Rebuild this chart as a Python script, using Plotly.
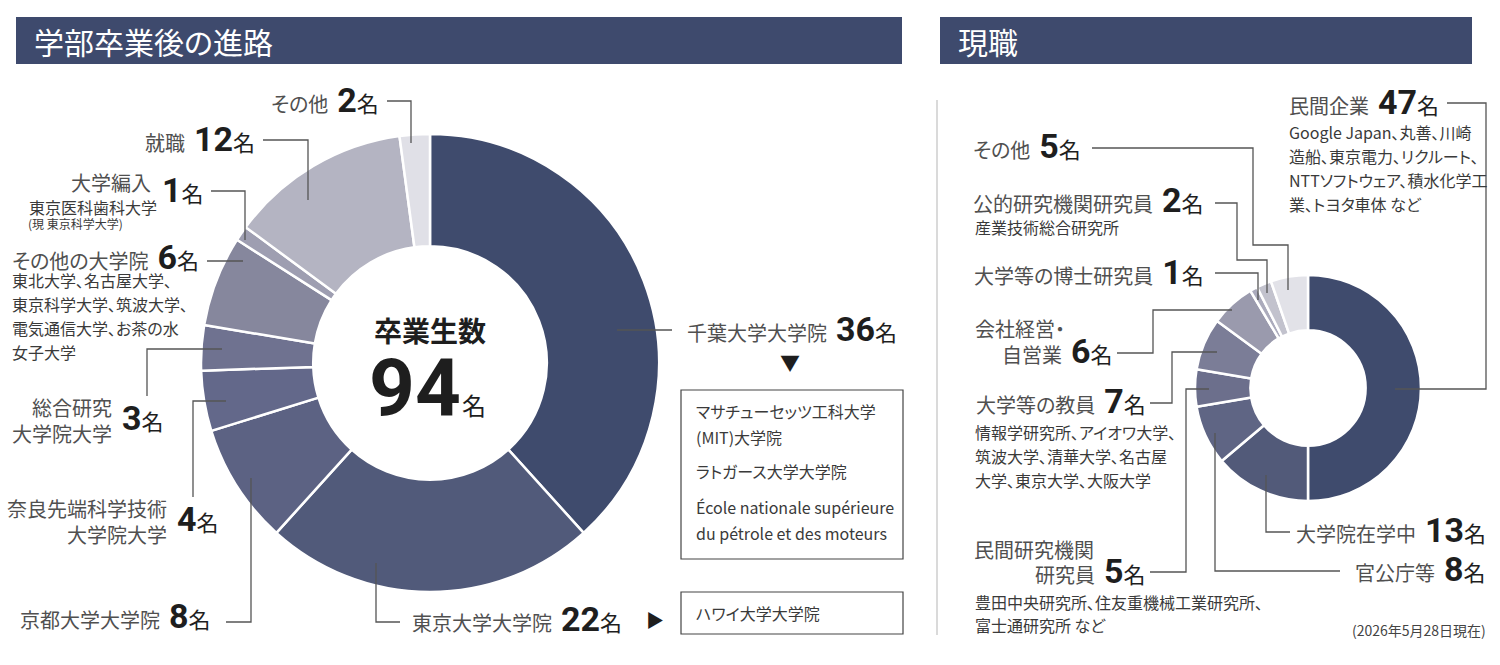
import plotly.graph_objects as go

W, H = 1500, 665

# 学部卒業後の進路 (clockwise from 12 o'clock)
grad_names = ["千葉大学大学院", "東京大学大学院", "京都大学大学院", "奈良先端科学技術大学院大学",
              "総合研究大学院大学", "その他の大学院", "大学編入", "就職", "その他"]
grad_counts = [36, 22, 8, 4, 3, 6, 1, 12, 2]
grad_colors = ["#3f4b6d", "#515a7a", "#5c6283", "#63688a", "#6f7290",
               "#86879d", "#9e9eb1", "#b4b4c2", "#e0e0e7"]

# 現職 (clockwise from 12 o'clock)
job_names = ["民間企業", "大学院在学中", "官公庁等", "民間研究機関研究員", "大学等の教員",
             "会社経営・自営業", "大学等の博士研究員", "公的研究機関研究員", "その他"]
job_counts = [47, 13, 8, 5, 7, 6, 1, 2, 5]
job_colors = ["#3f4b6d", "#525a79", "#5f6584", "#6c6f8c", "#7b7d97",
              "#9a9aad", "#ababbc", "#c2c2cd", "#e2e2e8"]

# sub notes
grad_notes = {
    "大学編入": ["東京医科歯科大学", "(現 東京科学大学)"],
    "その他の大学院": ["東北大学、名古屋大学、", "東京科学大学、筑波大学、",
                 "電気通信大学、お茶の水", "女子大学"],
}
chiba_next = ["マサチューセッツ工科大学", "(MIT)大学院", "ラトガース大学大学院",
              "École nationale supérieure", "du pétrole et des moteurs"]
todai_next = ["ハワイ大学大学院"]
job_notes = {
    "民間企業": ["Google Japan、丸善、川崎", "造船、東京電力、リクルート、",
             "NTTソフトウェア、積水化学工", "業、トヨタ車体 など"],
    "公的研究機関研究員": ["産業技術総合研究所"],
    "大学等の教員": ["情報学研究所、アイオワ大学、", "筑波大学、清華大学、名古屋",
               "大学、東京大学、大阪大学"],
    "民間研究機関研究員": ["豊田中央研究所、住友重機械工業研究所、", "富士通研究所 など"],
}
as_of = "(2026年5月28日現在)"

g = dict(zip(grad_names, grad_counts))
j = dict(zip(job_names, job_counts))

JP = "Noto Sans CJK JP"
LABEL = "#505050"
NOTE = "#3a3a3a"
DARK = "#1e1e1e"
LINE = "#555555"
NAVY = "#3e4a6d"
GAP = "&nbsp;&nbsp;"


def dom(cx, cy, r):
    return dict(x=[(cx - r) / W, (cx + r) / W], y=[1 - (cy + r) / H, 1 - (cy - r) / H])


fig = go.Figure()
fig.add_trace(go.Scatter(x=[], y=[], showlegend=False))

fig.add_trace(go.Pie(labels=grad_names, values=grad_counts, sort=False, direction="clockwise",
                     rotation=0, hole=0.51, textinfo="none", domain=dom(430, 363, 229),
                     marker=dict(colors=grad_colors, line=dict(color="white", width=2.5)),
                     showlegend=False))
fig.add_trace(go.Pie(labels=job_names, values=job_counts, sort=False, direction="clockwise",
                     rotation=0, hole=0.51, textinfo="none", domain=dom(1308, 388, 113),
                     marker=dict(colors=job_colors, line=dict(color="white", width=2.5)),
                     showlegend=False))


def text(x, y, s, size=20, color=LABEL, xanchor="left", yanchor="middle", align="left", family=JP):
    s = f"<span style=\"font-feature-settings:'palt'\">{s}</span>"
    fig.add_annotation(x=x, y=y, xref="x", yref="y", text=s, showarrow=False,
                       xanchor=xanchor, yanchor=yanchor, align=align,
                       font=dict(size=size, color=color, family=family))


def num(n, size=34, unit=22):
    return (f'<span style="font-family:Roboto;font-size:{size}px;color:{DARK}"><b>{n}</b></span>'
            f'<span style="font-size:{unit}px;color:{DARK}">名</span>')


def label(x, y, name, n, anchor="right"):
    text(x, y, f"{name}{GAP}{num(n)}", xanchor=anchor)


def notes(x, y, lines, step=24, size=16):
    for i, s in enumerate(lines):
        text(x, y + i * step, s, size=size, color=NOTE)


shapes = []


def leader(pts):
    path = "M " + " L ".join(f"{x},{y}" for x, y in pts)
    shapes.append(dict(type="path", path=path, xref="x", yref="y",
                       line=dict(color=LINE, width=1.3)))


def box(x0, y0, x1, y1):
    shapes.append(dict(type="rect", x0=x0, y0=y0, x1=x1, y1=y1, xref="x", yref="y",
                       line=dict(color="#444444", width=1.2)))


# headers
for x0, x1, title in [(16, 902, "学部卒業後の進路"), (940, 1472, "現職")]:
    shapes.append(dict(type="rect", x0=x0, x1=x1, y0=17, y1=64, xref="x", yref="y",
                       fillcolor=NAVY, line=dict(width=0), layer="below"))
    text(x0 + 16, 41, title, size=30, color="white")

# divider
shapes.append(dict(type="line", x0=937, x1=937, y0=100, y1=635, xref="x", yref="y",
                   line=dict(color="#b5b5b5", width=1)))

# ---- left: 学部卒業後の進路 ----
text(430, 330, "<b>卒業生数</b>", size=28, color=DARK, xanchor="center")
text(463, 388, f"<b>{sum(grad_counts)}</b>", size=80, color=DARK, xanchor="right", family="Roboto")
text(460, 404, "名", size=24, color=DARK)

label(381, 100, "その他", g["その他"])
leader([(387, 101), (411, 101), (411, 143)])

label(257, 139, "就職", g["就職"])
leader([(263, 140), (308, 140), (308, 200)])

text(153, 182, "大学編入", xanchor="right")
text(160, 190, num(g["大学編入"]))
text(27, 207, grad_notes["大学編入"][0], size=16, color=NOTE)
text(26, 223, grad_notes["大学編入"][1], size=12, color=NOTE)
leader([(211, 191), (245, 191), (245, 240)])

label(201, 257, "その他の大学院", g["その他の大学院"])
notes(10, 280, grad_notes["その他の大学院"])
leader([(207, 261), (243, 261)])

text(114, 420, "総合研究<br>大学院大学", xanchor="right", align="right")
text(120, 418, num(g["総合研究大学院大学"]))
leader([(147, 396), (147, 349), (222, 349)])

text(169, 521, "奈良先端科学技術<br>大学院大学", xanchor="right", align="right")
text(175, 519, num(g["奈良先端科学技術大学院大学"]))
leader([(193, 497), (193, 401), (226, 401)])

label(213, 616, "京都大学大学院", g["京都大学大学院"])
leader([(226, 622), (251, 622), (251, 478)])

label(410, 619, "東京大学大学院", g["東京大学大学院"], anchor="left")
leader([(400, 622), (376, 622), (376, 563)])
text(655, 619, "▶", size=18, color=DARK, xanchor="center")
box(681, 592, 903, 634)
text(694, 613, todai_next[0], size=16, color=NOTE)

label(685, 329, "千葉大学大学院", g["千葉大学大学院"], anchor="left")
leader([(617, 330), (672, 330)])
text(790, 362, "▼", size=20, color=DARK, xanchor="center")
box(681, 390, 903, 559)
for y, s in zip([411, 437, 471, 507, 533], chiba_next):
    text(694, y, s, size=16, color=NOTE)

# ---- right: 現職 ----
label(1441, 102, "民間企業", j["民間企業"])
notes(1287, 132, job_notes["民間企業"])
leader([(1447, 103), (1486, 103), (1486, 389), (1395, 389)])

label(1083, 146, "その他", j["その他"])
leader([(1092, 148), (1253, 148), (1253, 245), (1288, 245), (1288, 290)])

label(1206, 200, "公的研究機関研究員", j["公的研究機関研究員"])
notes(973, 227, job_notes["公的研究機関研究員"])
leader([(1215, 203), (1237, 203), (1237, 260), (1267, 260), (1267, 293)])

label(1206, 272, "大学等の博士研究員", j["大学等の博士研究員"])
leader([(1215, 273), (1258, 273), (1258, 300)])

text(973, 328, "会社経営・")
label(1115, 351, "自営業", j["会社経営・自営業"])
leader([(1117, 353), (1153, 353), (1153, 310), (1232, 310)])

label(1148, 401, "大学等の教員", j["大学等の教員"])
notes(973, 432, job_notes["大学等の教員"])
leader([(1150, 403), (1172, 403), (1172, 352), (1217, 352)])

text(972, 549, "民間研究機関")
label(1148, 571, "研究員", j["民間研究機関研究員"])
notes(973, 602, job_notes["民間研究機関研究員"], step=23)
leader([(1150, 572), (1186, 572), (1186, 389), (1209, 389)])

label(1488, 530, "大学院在学中", j["大学院在学中"])
leader([(1290, 532), (1266, 532), (1266, 475)])

label(1488, 569, "官公庁等", j["官公庁等"])
leader([(1340, 571), (1215, 571), (1215, 433)])

text(1488, 630, as_of, size=14, color="#444444", xanchor="right")

fig.update_layout(
    width=W, height=H,
    margin=dict(l=0, r=0, t=0, b=0),
    paper_bgcolor="white", plot_bgcolor="white",
    xaxis=dict(range=[0, W], visible=False, fixedrange=True, domain=[0, 1]),
    yaxis=dict(range=[H, 0], visible=False, fixedrange=True, domain=[0, 1]),
    shapes=shapes,
    font=dict(family=JP),
)

fig.write_html("out.html", config={"displayModeBar": False},
               post_script="document.body.style.margin='0';")
